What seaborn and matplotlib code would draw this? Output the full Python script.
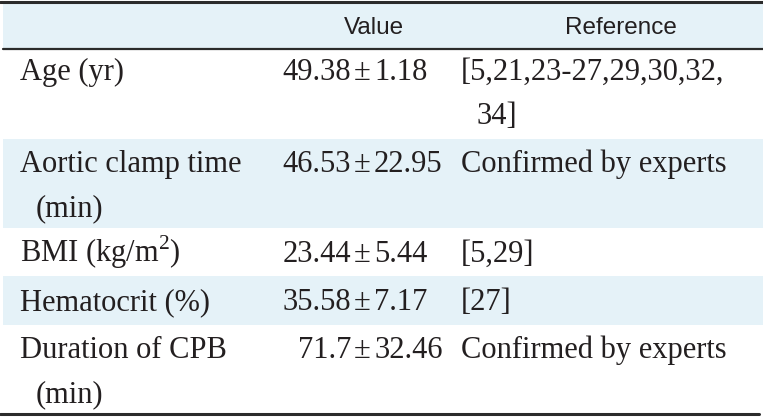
import numpy as np
import pandas as pd
import matplotlib.pyplot as plt
import seaborn as sns

# table contents
variables = [['Age (yr)'], ['Aortic clamp time', '(min)'], ['BMI (kg/m$^2$)'], ['Hematocrit (%)'], ['Duration of CPB', '(min)']]
means = ['49.38', '46.53', '23.44', '35.58', '71.7']
sds = ['1.18', '22.95', '5.44', '7.17', '32.46']
references = [['[5,21,23-27,29,30,32,', '34]'], ['Confirmed by experts'], ['[5,29]'], ['[27]'], ['Confirmed by experts']]
headers = ['', 'Value', 'Reference']

sns.set_theme(style='white')
plt.rcParams['font.family'] = ['Liberation Serif', 'DejaVu Serif']
plt.rcParams['mathtext.fontset'] = 'custom'
plt.rcParams['mathtext.rm'] = 'Liberation Serif'

W, H = 763, 419
fig = plt.figure(figsize=(W / 100, H / 100), dpi=100)
ax = fig.add_axes([0, 0, 1, 1])
ax.set_xlim(0, W)
ax.set_ylim(H, 0)
ax.axis('off')

blue = '#e5f2f8'
ink = '#231f20'
edges = [3, 49, 139, 228, 276, 325, 413]
baselines = [80, 172, 262, 310, 358]
gap = 44
indent = 16

ax.axhspan(edges[0], edges[1], xmin=3 / W, xmax=1, color=blue, lw=0)
for i in range(len(variables)):
    if i % 2 == 1:
        ax.axhspan(edges[i + 1], edges[i + 2], xmin=3 / W, xmax=1, color=blue, lw=0)

ax.plot([0, W], [2.5, 2.5], color='#2b2b2b', lw=2.2)
ax.plot([3, W], [49, 49], color='#2b2b2b', lw=1.6)
ax.plot([0, 759], [414, 414], color='#2b2b2b', lw=2.2)

fs = 22
hfont = dict(family=['Liberation Sans Narrow', 'Liberation Sans', 'DejaVu Sans'], fontsize=17.5, color=ink)
ax.text(374, 34, headers[1], ha='center', va='baseline', **hfont)
ax.text(621, 34, headers[2], ha='center', va='baseline', **hfont)

for i in range(len(variables)):
    y = baselines[i]
    for k, line in enumerate(variables[i]):
        ax.text(20 + (indent if k else 0), y + k * gap, line, ha='left', va='baseline', fontsize=fs, color=ink)
    ax.text(351, y, means[i], ha='right', va='baseline', fontsize=fs, color=ink)
    ax.text(362, y, '±', ha='center', va='baseline', fontsize=fs, color=ink)
    ax.text(374, y, sds[i], ha='left', va='baseline', fontsize=fs, color=ink)
    for k, line in enumerate(references[i]):
        ax.text(461 + (indent if k else 0), y + k * gap, line, ha='left', va='baseline', fontsize=fs, color=ink)

fig.savefig('out.png', dpi=100)
